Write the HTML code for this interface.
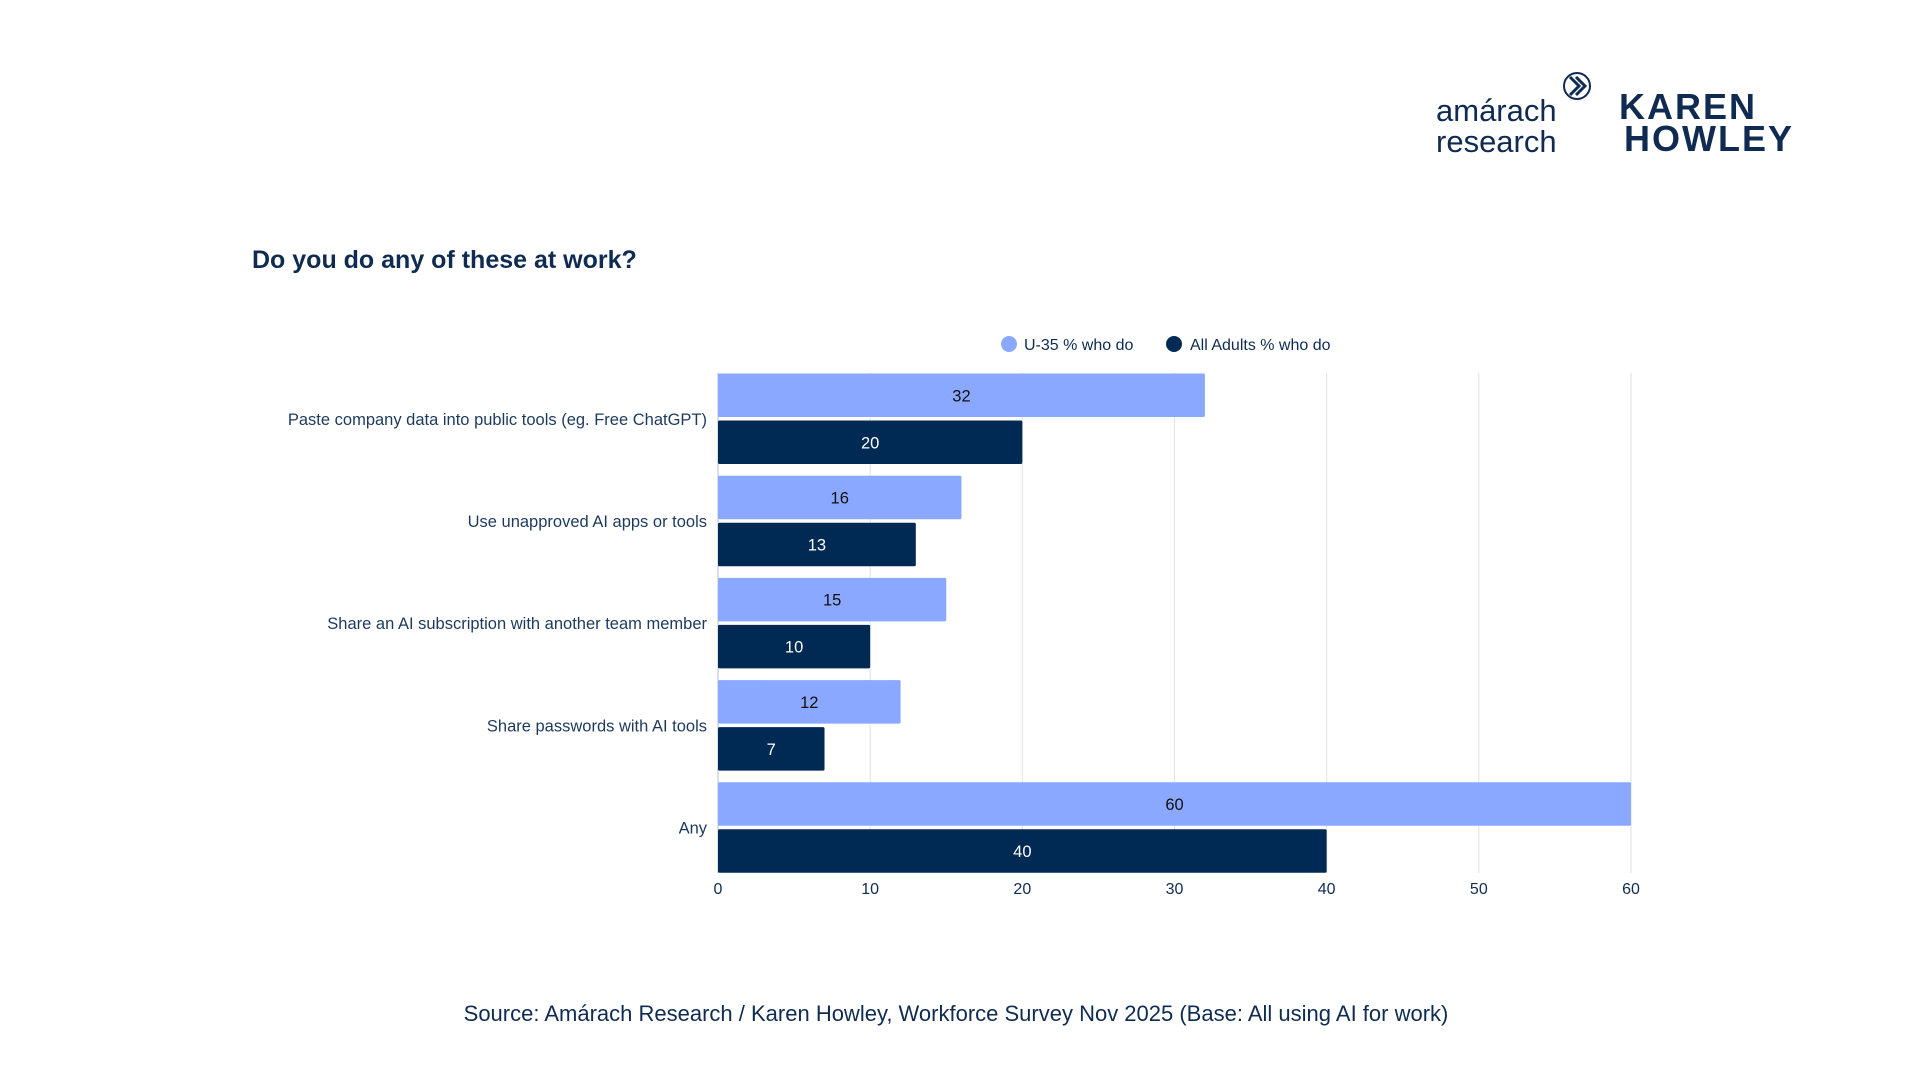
<!DOCTYPE html>
<html><head><meta charset="utf-8"><style>
body{margin:0;width:1920px;height:1080px;background:#fff;font-family:"Liberation Sans",sans-serif;color:#0f2b52;overflow:hidden}
svg{position:absolute;left:0;top:0}
</style></head><body>
<svg width="1920" height="1080">
 <g>
  <text x="1436" y="121" font-size="31" fill="#0f2b52">amárach</text>
  <text x="1436" y="152" font-size="31" fill="#0f2b52">research</text>
  <circle cx="1577" cy="86" r="13" fill="#fff" stroke="#0f2b52" stroke-width="2"/>
  <path d="M1570 77 l9 9 l-9 9 M1576 77 l9 9 l-9 9" stroke="#0f2b52" stroke-width="3" fill="none"/>
 </g>
 <g>
  <text x="1619" y="119" font-size="36" font-weight="bold" fill="#0f2b52" letter-spacing="2">KAREN</text>
  <text x="1624" y="151" font-size="36" font-weight="bold" fill="#0f2b52" letter-spacing="2">HOWLEY</text>
 </g>
 <text x="252" y="268" font-size="25" font-weight="bold" fill="#0f2b52">Do you do any of these at work?</text>
 <g>
  <circle cx="1009" cy="344" r="8" fill="#8aa8ff"/>
  <text x="1024" y="350" font-size="16" fill="#0f2b52">U-35 % who do</text>
  <circle cx="1174" cy="344" r="8" fill="#002a54"/>
  <text x="1190" y="350" font-size="16" fill="#0f2b52">All Adults % who do</text>
 </g>
 <g id="grid"></g><g id="bars"></g><g id="labels"></g>
 <text x="956" y="1021" text-anchor="middle" font-size="22" fill="#0f2b52">Source: Amárach Research / Karen Howley, Workforce Survey Nov 2025 (Base: All using AI for work)</text>
</svg>
<script>
const categories=["Paste company data into public tools (eg. Free ChatGPT)","Use unapproved AI apps or tools","Share an AI subscription with another team member","Share passwords with AI tools","Any"];
const u35=[32,16,15,12,60];
const allAdults=[20,13,10,7,40];
const ticks=[0,10,20,30,40,50,60];
const NS="http://www.w3.org/2000/svg";
const x0=718,x1=1631,yTop=373,yBot=873,max=60;
const xs=v=>x0+(v/max)*(x1-x0);
const pitch=102.2,firstTop=373.5;
function mk(t,a,p){const e=document.createElementNS(NS,t);for(const k in a)e.setAttribute(k,a[k]);p.appendChild(e);return e;}
const grid=document.getElementById('grid'),bars=document.getElementById('bars'),labels=document.getElementById('labels');
ticks.forEach(t=>{
 const l=mk('line',{x1:xs(t),x2:xs(t),y1:yTop,y2:yBot,stroke:t===0?'#b8c2cc':'#dde3e8','stroke-width':1},grid);
 
 
 const tx=mk('text',{x:xs(t),y:894,'text-anchor':'middle','font-size':16,fill:'#0f2b52'},labels);
 tx.textContent=t;
 
 
});
const bh=43.5,gap=3.5;
categories.forEach((c,i)=>{
 const by=firstTop+i*pitch;
 const lab=mk('text',{x:707,y:by+bh+gap/2+6,'text-anchor':'end','font-size':16.5,fill:'#1d3a5c'},labels);
 lab.textContent=c;
 
 
 [[u35[i],'#8aa8ff','#111','u35'],[allAdults[i],'#002a54','#fff','all-adults']].forEach((s,j)=>{
  const y=by+j*(bh+gap);
  const r=mk('rect',{x:x0,y:y,width:xs(s[0])-x0,height:bh,fill:s[1],rx:1.5},bars);
  
  
  const v=mk('text',{x:(x0+xs(s[0]))/2,y:y+bh/2+6,'text-anchor':'middle','font-size':16.5,fill:s[2]},labels);
  v.textContent=s[0];
  
  
 });
});
</script>
</body></html>
